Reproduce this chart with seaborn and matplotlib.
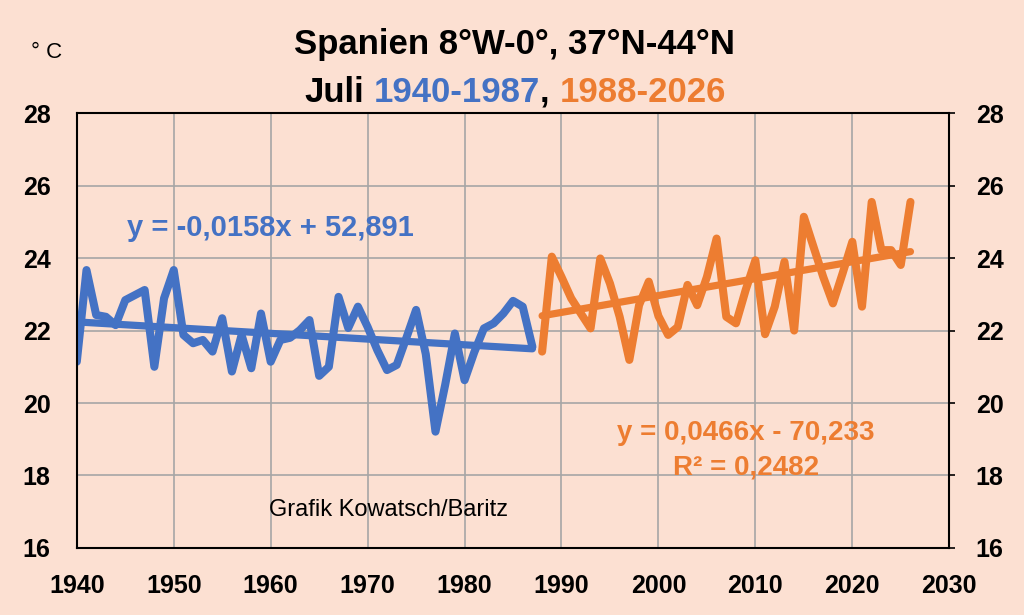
import matplotlib
matplotlib.use("Agg")
import matplotlib.pyplot as plt
import pandas as pd
import seaborn as sns

# Juli-Mitteltemperatur Spanien
years_early = list(range(1940, 1988))
temp_early = [21.14, 23.67, 22.43, 22.38, 22.15, 22.84, 22.98, 23.12, 21.00, 22.89,
              23.67, 21.88, 21.65, 21.74, 21.42, 22.34, 20.87, 21.88, 20.96, 22.47,
              21.14, 21.74, 21.80, 22.01, 22.29, 20.75, 21.00, 22.93, 22.07, 22.66,
              22.10, 21.46, 20.91, 21.05, 21.80, 22.57, 21.35, 19.21, 20.50, 21.92,
              20.63, 21.40, 22.06, 22.20, 22.47, 22.82, 22.66, 21.55]

years_late = list(range(1988, 2027))
temp_late = [21.42, 24.04, 23.48, 22.89, 22.47, 22.06, 23.99, 23.30, 22.38, 21.19,
             22.70, 23.35, 22.40, 21.88, 22.10, 23.26, 22.70, 23.48, 24.54, 22.38,
             22.20, 23.12, 23.94, 21.90, 22.66, 23.90, 22.00, 25.14, 24.31, 23.48,
             22.75, 23.58, 24.45, 22.66, 25.55, 24.22, 24.22, 23.81, 25.55]

# Trendlinien wie in der Grafik angegeben
trend_early = (-0.0158, 52.891)
trend_late = (0.0466, -70.233)

x_ticks = list(range(1940, 2031, 10))
y_ticks = [16, 18, 20, 22, 24, 26, 28]

BG = "#FCE0D2"
BLUE = "#4472C4"
ORANGE = "#ED7D31"
GRID = "#A6A6A6"

sns.set_style("white", {"axes.facecolor": BG, "figure.facecolor": BG,
                        "axes.edgecolor": "black", "text.color": "black",
                        "xtick.color": "black", "ytick.color": "black",
                        "axes.labelcolor": "black"})
plt.rcParams["font.family"] = ["Liberation Sans", "DejaVu Sans"]

early = pd.DataFrame({"Jahr": years_early, "Temp": temp_early})
late = pd.DataFrame({"Jahr": years_late, "Temp": temp_late})
early["Trend"] = trend_early[0] * early["Jahr"] + trend_early[1]
late["Trend"] = trend_late[0] * late["Jahr"] + trend_late[1]

fig, ax = plt.subplots(figsize=(10.24, 6.15), dpi=100)
fig.subplots_adjust(left=0.075, right=0.927, top=0.816, bottom=0.109)

data_kw = dict(lw=5.8, solid_joinstyle="round", solid_capstyle="round")
trend_kw = dict(lw=5.2, solid_capstyle="round")
sns.lineplot(data=early, x="Jahr", y="Temp", color=BLUE, ax=ax, **data_kw)
sns.lineplot(data=early, x="Jahr", y="Trend", color=BLUE, ax=ax, **trend_kw)
sns.lineplot(data=late, x="Jahr", y="Temp", color=ORANGE, ax=ax, **data_kw)
sns.lineplot(data=late, x="Jahr", y="Trend", color=ORANGE, ax=ax, **trend_kw)

ax.set_xlim(1940, 2030)
ax.set_ylim(16, 28)
ax.set_xticks(x_ticks)
ax.set_yticks(y_ticks)
ax.set_xlabel("")
ax.set_ylabel("")
ax.grid(True, color=GRID, lw=1.2)
ax.set_axisbelow(True)
for sp in ax.spines.values():
    sp.set_color("black")
    sp.set_linewidth(1.5)

ax.tick_params(axis="x", length=0, pad=19, labelsize=18, labelcolor="black")
ax.tick_params(axis="y", left=False, right=True, labelleft=True, labelright=True,
               length=4, width=1.2, pad=15, labelsize=18, labelcolor="black")
for lab in ax.get_xticklabels() + ax.get_yticklabels():
    lab.set_fontweight("bold")

# Gleichungen und Quelle
ax.text(1945.2, 24.83, "y = -0,0158x + 52,891", color=BLUE, fontsize=21,
        fontweight="bold", ha="left", va="center")
ax.text(2009.05, 19.17, "y = 0,0466x - 70,233", color=ORANGE, fontsize=20,
        fontweight="bold", ha="center", va="center")
ax.text(2009.05, 18.23, "R² = 0,2482", color=ORANGE, fontsize=20,
        fontweight="bold", ha="center", va="center")
ax.text(1972.2, 17.05, "Grafik Kowatsch/Baritz", color="black", fontsize=17,
        ha="center", va="center")

fig.text(0.03, 0.915, "° C", color="black", fontsize=16, ha="left", va="center")

# Titel, zweite Zeile mehrfarbig
fig.text(0.502, 0.927, "Spanien 8°W-0°, 37°N-44°N", color="black", fontsize=25,
         fontweight="bold", ha="center", va="center")

r = fig.canvas.get_renderer()


def text_width(s, size=25):
    t = fig.text(0, 0, s, fontsize=size, fontweight="bold")
    w = t.get_window_extent(r).width
    t.remove()
    return w


space = text_width("a a") - text_width("aa")
parts = [("Juli", "black", space), ("1940-1987", BLUE, 0),
         (",", "black", space), ("1988-2026", ORANGE, 0)]
total = sum(text_width(s) + g for s, c, g in parts)
fig_w = fig.get_figwidth() * fig.dpi
x = 0.503 * fig_w - total / 2
for s, c, g in parts:
    fig.text(x / fig_w, 0.850, s, color=c, fontsize=25, fontweight="bold",
             ha="left", va="center")
    x += text_width(s) + g

fig.savefig("out.png", dpi=100, facecolor=BG)
